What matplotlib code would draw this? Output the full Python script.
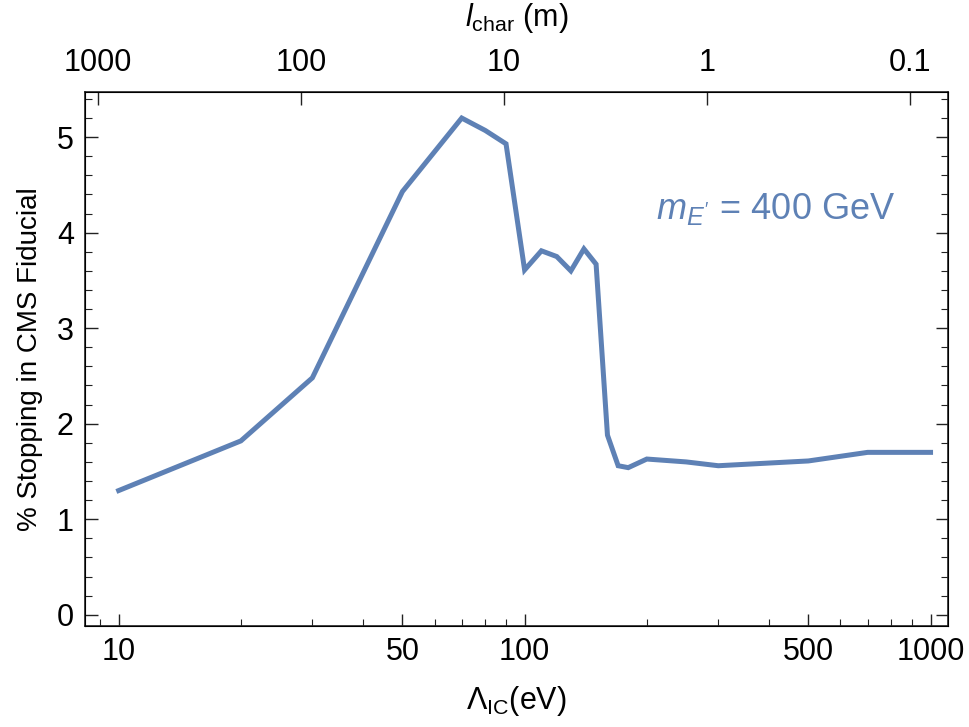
import numpy as np
import matplotlib
matplotlib.use('Agg')
import matplotlib.pyplot as plt
from matplotlib.ticker import FixedLocator, NullLocator, NullFormatter

# data
lam_ic = [10, 20, 30, 50, 70, 80, 90, 100, 110, 120, 130, 140, 150,
          160, 170, 180, 200, 250, 300, 500, 700, 1000]
stopping = [1.30, 1.82, 2.48, 4.43, 5.20, 5.07, 4.93, 3.61, 3.81, 3.75,
            3.60, 3.83, 3.67, 1.88, 1.56, 1.54, 1.63, 1.60, 1.56, 1.61,
            1.70, 1.70]

bottom_ticks = [10, 50, 100, 500, 1000]
bottom_minor = [9, 20, 30, 40, 60, 70, 80, 90, 200, 300, 400, 600, 700, 800, 900]
top_ticks = [1000, 100, 10, 1, 0.1]
top_labels = ["1000", "100", "10", "1", "0.1"]
l_const = 7.9e4  # l_char = l_const / Lambda^2

line_color = '#5E81B5'
frame_color = '#222222'

plt.rcParams['font.family'] = ['Liberation Sans', 'DejaVu Sans']
plt.rcParams['mathtext.fontset'] = 'custom'
plt.rcParams['mathtext.rm'] = 'Liberation Sans'
plt.rcParams['mathtext.it'] = 'Liberation Sans:italic'

fig = plt.figure(figsize=(9.7, 7.27), dpi=100)
ax = fig.add_axes([0.0876, 0.1393, 0.8897, 0.7346])

ax.plot(lam_ic, stopping, color=line_color, lw=3.6, solid_joinstyle='miter')
ax.set_xscale('log')
ax.set_xlim(8.26, 1104)
ax.set_ylim(-0.115, 5.476)

ax.xaxis.set_major_locator(FixedLocator(bottom_ticks))
ax.set_xticklabels([str(t) for t in bottom_ticks])
ax.xaxis.set_minor_locator(FixedLocator(bottom_minor))
ax.xaxis.set_minor_formatter(NullFormatter())
ax.set_yticks([0, 1, 2, 3, 4, 5])
ax.yaxis.set_minor_locator(FixedLocator(np.arange(-0.0, 5.5, 0.2)))

ax.tick_params(axis='both', which='major', direction='in', length=9, width=1,
               color=frame_color, labelsize=22, pad=8)
ax.tick_params(axis='both', which='minor', direction='in', length=5, width=0.8,
               color=frame_color)
ax.tick_params(axis='x', which='both', top=False)
ax.tick_params(axis='y', which='both', right=True)
for sp in ax.spines.values():
    sp.set_color(frame_color)
    sp.set_linewidth(1.2)

ax.set_xlabel(r'$\Lambda_{\mathrm{IC}}$(eV)', fontsize=22, labelpad=12)
ax.set_ylabel('% Stopping in CMS Fiducial', fontsize=20, labelpad=10)

# top axis: characteristic length
ax2 = ax.twiny()
ax2.set_xscale('log')
ax2.set_xlim(ax.get_xlim())
ax2.xaxis.set_major_locator(FixedLocator([np.sqrt(l_const / l) for l in top_ticks]))
ax2.set_xticklabels(top_labels)
ax2.xaxis.set_minor_locator(NullLocator())
ax2.tick_params(axis='x', which='major', direction='in', length=9, width=1,
                color=frame_color, labelsize=22, pad=10)
ax2.set_xlabel(r'$l_{\mathrm{char}}$ (m)', fontsize=22, labelpad=16)

ax.text(0.80, 0.78, r"$m_{E'}$ = 400 GeV", transform=ax.transAxes,
        fontsize=26, color=line_color, ha='center', va='center')

fig.savefig('out.png', dpi=100)
